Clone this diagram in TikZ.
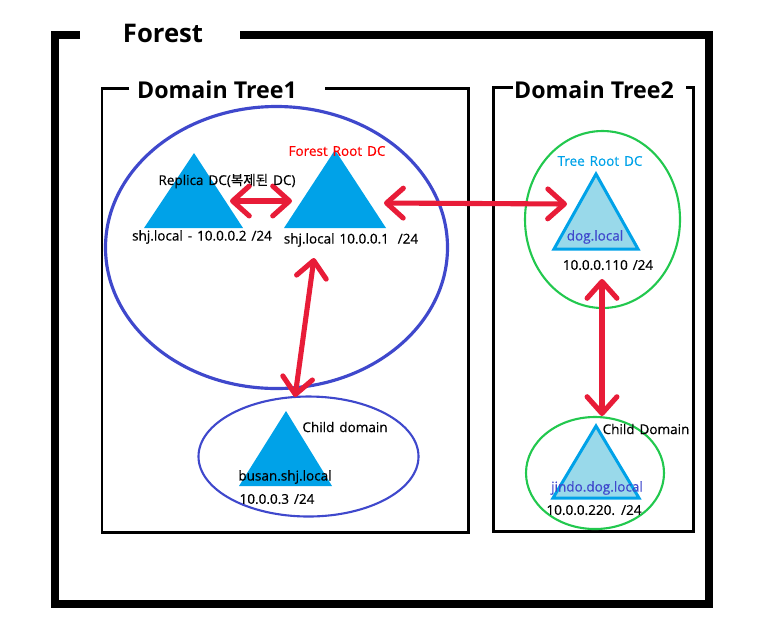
\documentclass[tikz,border=0pt]{standalone}
\usepackage{fontspec}
\setmainfont{Open Sans}
\newfontfamily\cjk{Noto Sans CJK KR}[FakeBold=0.4]
\newfontfamily\labelfont{Open Sans}[FakeBold=0.5, WordSpace=1.4]
\usepackage{xcolor}
\usetikzlibrary{arrows.meta}
\definecolor{dcblue}{HTML}{00A2E8}
\definecolor{dclight}{HTML}{99D9EA}
\definecolor{ringblue}{HTML}{3F48CC}
\definecolor{ringgreen}{HTML}{22C84E}
\definecolor{linkred}{HTML}{E81C38}
\tikzset{
  frame/.style={draw=black, line width=1.7pt, miter limit=10},
  biglabel/.style={font=\fontsize{13.2}{14}\selectfont\bfseries, inner sep=0pt},
  smalllabel/.style={font=\labelfont\fontsize{7.7}{8}\selectfont, inner sep=0pt},
  link/.style={draw=linkred, line width=2.9pt, line cap=round, {Straight Barb[round,length=9.5pt,width=17pt]}-{Straight Barb[round,length=9.5pt,width=17pt]}},
  dcsolid/.style={fill=dcblue},
  dcpale/.style={fill=dclight, draw=dcblue, line width=1.7pt, line join=miter},
}
\begin{document}
\begin{tikzpicture}[x=0.02cm, y=-0.02cm]
\useasboundingbox (0,0) rectangle (759,640);
% Forest frame
\draw[black, line width=4.2pt] (80,35) -| (55,604) -| (709,35) -- (240,35);
\node[biglabel, font=\fontsize{14.6}{16}\selectfont\bfseries] (forest) at (163,33) {Forest};
% Domain tree frames
\draw[frame] (129,88) -| (102,532) -| (468,88) -- (325,88);
\node[biglabel] (tree1) at (217,90) {Domain Tree1};
\draw[frame] (513,87) -| (493,531) -| (693,87) -- (686,87);
\node[biglabel] (tree2) at (594,90) {Domain Tree2};
% Rings
\draw[ringblue, line width=1.8pt] (276.5,247.5) ellipse (171 and 141);
\draw[ringblue, line width=1.2pt] (308.5,456.5) ellipse (110 and 60);
\draw[ringgreen, line width=1.2pt] (602.5,219.5) ellipse (77.5 and 88.5);
\draw[ringgreen, line width=1.2pt] (595,473) ellipse (69 and 56);
% Triangles
\fill[dcsolid] (194,153) -- (243,228) -- (144,228) -- cycle;
\fill[dcsolid] (335,150) -- (386,228) -- (284,228) -- cycle;
\fill[dcsolid] (286,411) -- (332,486) -- (239,486) -- cycle;
\draw[dcpale] (596,174) -- (638,249) -- (554,249) -- cycle;
\draw[dcpale] (596,426) -- (639,498) -- (553,498) -- cycle;
% Link ends
\coordinate (replica) at (230,201);
\coordinate (rootwest) at (292,201);
\coordinate (rooteast) at (384,203);
\coordinate (treeroot) at (567,204);
\coordinate (rootsouth) at (314,258);
\coordinate (busan) at (295,397);
\coordinate (treesouth) at (602,279);
\coordinate (jindo) at (602,416);
% Links
\draw[link] (replica) -- (rootwest);
\draw[link] (rooteast) -- (treeroot);
\draw[link] (rootsouth) -- (busan);
\draw[link] (treesouth) -- (jindo);
% Labels
\node[smalllabel] (replicatext) at (227,181) {Replica DC({\cjk 복제된} DC)};
\node[smalllabel, text=red] (roottext) at (337,151) {Forest Root DC};
\node[smalllabel] (replicaip) at (202,237) {shj.local - 10.0.0.2 /24};
\node[smalllabel] (rootip) at (351,240) {shj.local 10.0.0.1\hspace{5pt}/24};
\node[smalllabel, text=dcblue] (treetext) at (600,161) {Tree Root DC};
\node[smalllabel, text=ringblue] (dogtext) at (595,237) {dog.local};
\node[smalllabel] (dogip) at (608,265) {10.0.0.110 /24};
\node[smalllabel] (childtext) at (345,427) {Child domain};
\node[smalllabel] (busantext) at (285,477) {busan.shj.local};
\node[smalllabel] (busanip) at (277,499) {10.0.0.3 /24};
\node[smalllabel] (childtexttwo) at (646,429) {Child Domain};
\node[smalllabel, text=ringblue] (jindotext) at (597,488) {jindo.dog.local};
\node[smalllabel] (jindoip) at (594,510) {10.0.0.220. /24};
\end{tikzpicture}
\end{document}
